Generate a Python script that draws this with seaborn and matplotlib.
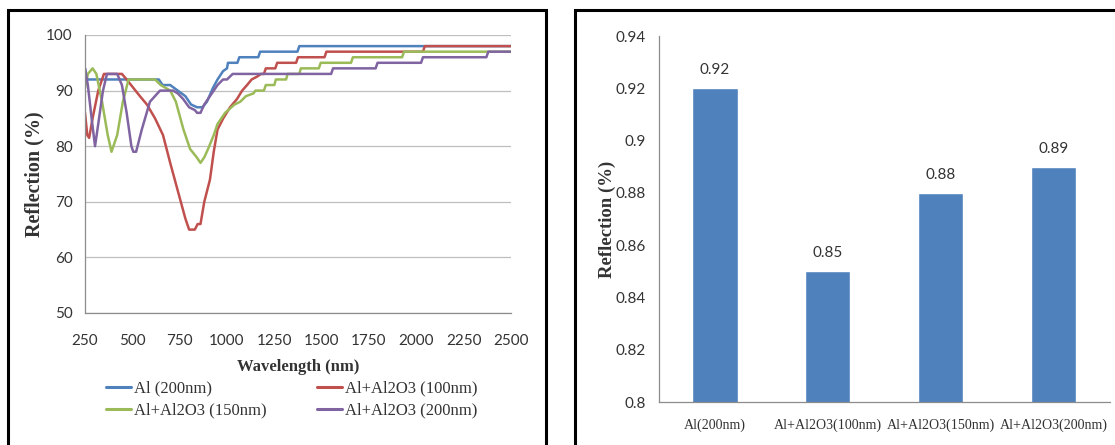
import numpy as np
import matplotlib
matplotlib.use("Agg")
import matplotlib.pyplot as plt
import matplotlib.lines as mlines
import pandas as pd
import seaborn as sns

# ---- data ----
series_names = ["Al (200nm)", "Al+Al2O3 (100nm)", "Al+Al2O3 (150nm)", "Al+Al2O3 (200nm)"]

al_wl = [250, 262, 640, 660, 700, 740, 780, 810, 842, 870, 894, 926, 950, 979, 1000,
         1005, 1055, 1065, 1165, 1175, 1372, 1382, 2500]
al_r = [94, 92, 92, 91, 91, 90, 89, 87.5, 87, 87, 88, 90.5, 92, 93.5, 94,
        95, 95, 96, 96, 97, 97, 98, 98]

a100_wl = [250, 262, 272, 290, 320, 350, 445, 470, 505, 540, 577, 620, 662, 700, 740,
           780, 800, 830, 845, 860, 880, 910, 930, 950, 980, 1016, 1053, 1080, 1106,
           1130, 1158, 1180, 1195, 1205, 1255, 1265, 1365, 1375, 1515, 1525, 2035,
           2045, 2500]
a100_r = [86, 82, 81.5, 85, 90, 93, 93, 92, 90.5, 89, 87.5, 85, 82, 77, 72,
          67, 65, 65, 66, 66, 70, 74, 79, 83, 85, 87, 88.5, 90, 91,
          92, 92.5, 93, 93, 94, 94, 95, 95, 96, 96, 97, 97,
          98, 98]

a150_wl = [250, 265, 290, 310, 340, 370, 390, 420, 450, 480, 620, 650, 700, 730, 770,
           805, 840, 860, 880, 900, 930, 950, 990, 1040, 1070, 1100, 1140, 1150, 1195,
           1205, 1250, 1258, 1312, 1320, 1382, 1390, 1485, 1495, 1655, 1665, 1925,
           1935, 2500]
a150_r = [90.5, 93, 94, 93, 88, 82, 79, 82, 88, 92, 92, 91, 90, 88, 83,
          79.5, 78, 77, 78, 79.5, 82, 84, 86, 87.5, 88, 89, 89.5, 90, 90,
          91, 91, 92, 92, 93, 93, 94, 94, 95, 95, 96, 96,
          97, 97]

a200_wl = [250, 265, 285, 303, 320, 345, 366, 420, 445, 470, 495, 505, 520, 550, 593,
           646, 715, 740, 768, 800, 830, 842, 860, 880, 910, 950, 979, 1000, 1030,
           1550, 1560, 1785, 1795, 2025, 2035, 2370, 2380, 2500]
a200_r = [94, 91, 85, 80, 84, 90, 93, 93, 91, 86, 80, 79, 79, 83, 88,
          90, 90, 89.5, 88.5, 87, 86.5, 86, 86, 87.5, 89, 91, 92, 92, 93,
          93, 94, 94, 95, 95, 96, 96, 97, 97]

bar_cats = ["Al(200nm)", "Al+Al2O3(100nm)", "Al+Al2O3(150nm)", "Al+Al2O3(200nm)"]
bar_vals = [0.92, 0.85, 0.88, 0.89]
bar_text = ["0.92", "0.85", "0.88", "0.89"]

x_ticks = [250, 500, 750, 1000, 1250, 1500, 1750, 2000, 2250, 2500]
y_ticks = [50, 60, 70, 80, 90, 100]
bar_y_ticks = [0.8, 0.82, 0.84, 0.86, 0.88, 0.9, 0.92, 0.94]
bar_y_labels = ["0.8", "0.82", "0.84", "0.86", "0.88", "0.9", "0.92", "0.94"]

colors = ["#4F81BD", "#C0504D", "#9BBB59", "#8064A2"]

sns.set_theme(style="white")
plt.rcParams["font.family"] = ["Liberation Serif", "DejaVu Serif"]

serif = "Liberation Serif"
sans = "Lato"
axis_gray = "#8C8C8C"
text_col = "#333333"

frames = []
for name, wl, r in zip(series_names,
                       [al_wl, a100_wl, a150_wl, a200_wl],
                       [al_r, a100_r, a150_r, a200_r]):
    frames.append(pd.DataFrame({"Wavelength": wl, "Reflection": r, "Sample": name}))
df = pd.concat(frames, ignore_index=True)

fig = plt.figure(figsize=(11.15, 4.45), dpi=100)
W, H = 1115, 445

# panel frames
fig.add_artist(plt.Rectangle((8 / W, -0.01), (546 - 8) / W, 1 - 10 / H + 0.01,
                             transform=fig.transFigure, fill=False,
                             edgecolor="black", linewidth=2.2))
fig.add_artist(plt.Rectangle((575 / W, -0.01), 0.6, 1 - 10 / H + 0.01,
                             transform=fig.transFigure, fill=False,
                             edgecolor="black", linewidth=2.2))

# ---- left: reflection spectra ----
ax1 = fig.add_axes([85 / W, 1 - 313 / H, 426 / W, 278 / H])
sns.lineplot(data=df, x="Wavelength", y="Reflection", hue="Sample",
             palette=colors, hue_order=series_names, estimator=None,
             sort=False, linewidth=1.8, ax=ax1, legend=False)
ax1.set_xlim(250, 2500)
ax1.set_ylim(50, 100)
ax1.set_xticks(x_ticks)
ax1.set_yticks(y_ticks)
ax1.yaxis.grid(True, color="#BFBFBF", linewidth=0.9)
ax1.set_axisbelow(True)
for s in ["top", "right"]:
    ax1.spines[s].set_visible(False)
for s in ["left", "bottom"]:
    ax1.spines[s].set_color(axis_gray)
    ax1.spines[s].set_linewidth(0.9)
ax1.tick_params(axis="both", which="major", direction="out", length=5,
                color=axis_gray, width=0.9, labelsize=11, labelcolor=text_col, pad=4)
ax1.tick_params(axis="x", pad=10)
for lab in ax1.get_xticklabels() + ax1.get_yticklabels():
    lab.set_fontfamily(sans)
ax1.set_xlabel("Wavelength (nm)", fontfamily=serif, fontweight="bold",
               fontsize=12, color=text_col, labelpad=8)
ax1.set_ylabel("Reflection (%)", fontfamily=serif, fontweight="bold",
               fontsize=14.5, color=text_col, labelpad=1)

# row-wise legend order: blue, red / green, purple
order = [0, 2, 1, 3]
handles = [mlines.Line2D([], [], color=colors[i], linewidth=2.2) for i in order]
ax1.legend(handles, [series_names[i] for i in order], loc="upper left", ncol=2,
           frameon=False, bbox_to_anchor=(6 / 426, -0.19),
           prop={"family": serif, "size": 12},
           handlelength=1.5, handletextpad=0.2, columnspacing=3.0,
           labelspacing=0.35, labelcolor=text_col)

# ---- right: reflection at one wavelength ----
ax2 = fig.add_axes([658.6 / W, 1 - 402 / H, 451.4 / W, 366 / H])
bars = pd.DataFrame({"Sample": bar_cats, "Reflection": bar_vals})
sns.barplot(data=bars, x="Sample", y="Reflection", color="#4F81BD",
            saturation=1, width=0.4, ax=ax2)
ax2.set_ylim(0.8, 0.94)
ax2.set_yticks(bar_y_ticks)
ax2.set_yticklabels(bar_y_labels)
ax2.bar_label(ax2.containers[0], labels=bar_text, padding=8,
              fontfamily=sans, fontsize=11, color=text_col)
for s in ["top", "right"]:
    ax2.spines[s].set_visible(False)
for s in ["left", "bottom"]:
    ax2.spines[s].set_color(axis_gray)
    ax2.spines[s].set_linewidth(0.9)
ax2.tick_params(axis="y", direction="out", length=4, color=axis_gray, width=0.9,
                labelsize=11, labelcolor=text_col, pad=5)
ax2.tick_params(axis="x", length=0, labelsize=10.1, labelcolor=text_col, pad=12)
for lab in ax2.get_yticklabels():
    lab.set_fontfamily(sans)
for lab in ax2.get_xticklabels():
    lab.set_fontfamily(serif)
ax2.set_xlabel("")
ax2.set_ylabel("Reflection (%)", fontfamily=serif, fontweight="bold",
               fontsize=13.5, color=text_col, labelpad=0)

fig.savefig("out.png", dpi=100)
